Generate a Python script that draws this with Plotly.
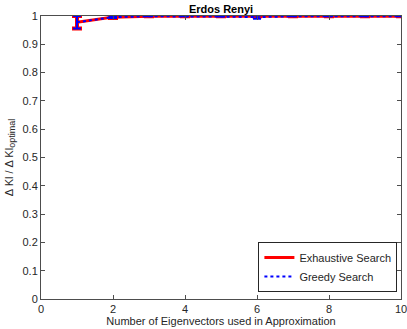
import plotly.graph_objects as go

n_vectors = [1, 2, 3, 4, 5, 6, 7, 8, 9, 10]
exhaustive = [0.978, 0.996, 0.999, 0.999, 0.999, 0.999, 0.999, 0.999, 0.999, 0.999]
exhaustive_err = [0.022, 0.003, None, None, None, None, None, None, None, None]
greedy = [0.978, 0.996, 0.999, 0.999, 0.998, 0.996, 0.999, 0.999, 0.999, 0.999]
greedy_err = [0.022, 0.003, None, None, None, 0.006, None, None, None, None]

x_ticks = [0, 2, 4, 6, 8, 10]
y_ticks = [0, 0.1, 0.2, 0.3, 0.4, 0.5, 0.6, 0.7, 0.8, 0.9, 1]

axis_color = "#4d4d4d"
text_color = "#262626"

fig = go.Figure()
fig.add_trace(go.Scatter(
    x=n_vectors, y=exhaustive, name="Exhaustive Search", mode="lines",
    line=dict(color="red", width=3),
    error_y=dict(type="data", array=exhaustive_err, color="red", thickness=4, width=5),
    cliponaxis=False,
))
fig.add_trace(go.Scatter(
    x=n_vectors, y=greedy, name="Greedy Search", mode="lines",
    line=dict(color="blue", width=2, dash="dot"),
    error_y=dict(type="data", array=greedy_err, color="blue", thickness=2, width=4),
    cliponaxis=False,
))

axis_common = dict(
    showgrid=False, zeroline=False, showline=True, mirror="ticks",
    linecolor=axis_color, linewidth=1, ticks="inside", ticklen=4,
    tickcolor=axis_color, tickfont=dict(size=11, color=text_color),
    automargin=False, ticklabeloverflow="allow",
)
fig.update_xaxes(
    range=[0, 10], tickvals=x_ticks,
    title=dict(text="Number of Eigenvectors used in Approximation",
               font=dict(size=11, color=text_color), standoff=2),
    **axis_common,
)
fig.update_yaxes(
    range=[0, 1], tickvals=y_ticks,
    title=dict(text="Δ Kl / Δ Kl<sub><span style='font-size:9px'>optimal</span></sub>",
               font=dict(size=11, color=text_color), standoff=6),
    **axis_common,
)

fig.update_layout(
    width=407, height=329,
    margin=dict(l=41, r=6, t=16, b=30, autoexpand=False),
    paper_bgcolor="white", plot_bgcolor="white",
    font=dict(family="Liberation Sans, Arial, sans-serif", size=11, color=text_color),
    title=dict(text="<b>Erdos Renyi</b>", xref="paper", x=0.5, xanchor="center",
               y=0.985, yanchor="top", font=dict(size=11, color="black")),
    showlegend=True,
    legend=dict(x=0.99, y=0.025, xanchor="right", yanchor="bottom",
                bordercolor="#262626", borderwidth=1, bgcolor="white",
                font=dict(size=11, color=text_color), tracegroupgap=0,
                itemwidth=30),
)

# the page's default body margin would shift the chart by 8px
fig.write_html("out.html", config={"displayModeBar": False},
               post_script="document.body.style.margin = '0';")
